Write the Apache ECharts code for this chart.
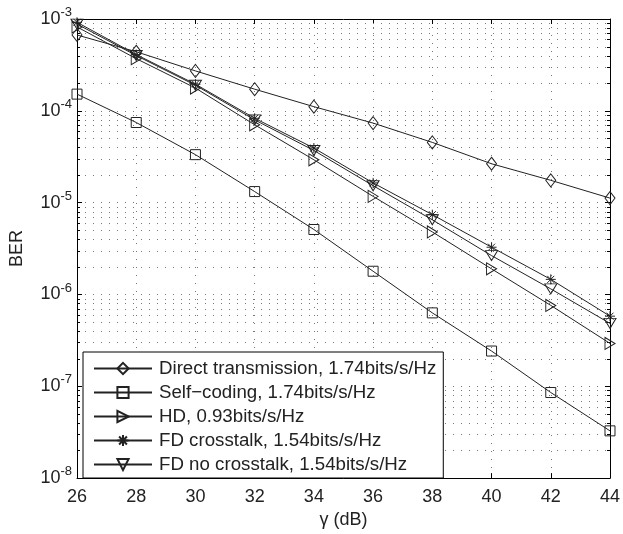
<!DOCTYPE html>
<html>
<head>
<meta charset="utf-8">
<script src="https://cdn.jsdelivr.net/npm/echarts@6/dist/echarts.min.js"></script>
<style>
  html, body { margin: 0; padding: 0; background: #fff; }
  #chart { width: 623px; height: 534px; }
</style>
</head>
<body>
<div id="chart"></div>
<script>
// SNR in dB
var snr = [26, 28, 30, 32, 34, 36, 38, 40, 42, 44]

// BER per scheme
var directTx = [6.7e-4, 4.4e-4, 2.72e-4, 1.72e-4, 1.11e-4, 7.35e-5, 4.53e-5, 2.65e-5, 1.75e-5, 1.12e-5]
var selfCoding = [1.52e-4, 7.46e-5, 3.33e-5, 1.32e-5, 5.1e-6, 1.79e-6, 6.3e-7, 2.42e-7, 8.55e-8, 3.27e-8]
var hd = [8.2e-4, 3.7e-4, 1.77e-4, 7.05e-5, 2.93e-5, 1.17e-5, 4.8e-6, 1.9e-6, 7.6e-7, 2.93e-7]
var fdCrosstalk = [9.2e-4, 4.1e-4, 1.95e-4, 8.3e-5, 3.93e-5, 1.64e-5, 7.4e-6, 3.27e-6, 1.46e-6, 5.8e-7]
var fdNoCrosstalk = [8.8e-4, 4.0e-4, 1.9e-4, 7.97e-5, 3.7e-5, 1.53e-5, 6.5e-6, 2.65e-6, 1.15e-6, 4.84e-7]

var names = [
  'Direct transmission, 1.74bits/s/Hz',
  'Self\u2212coding, 1.74bits/s/Hz',
  'HD, 0.93bits/s/Hz',
  'FD crosstalk, 1.54bits/s/Hz',
  'FD no crosstalk, 1.54bits/s/Hz'
]

// log minor grid values (2..9 per decade)
var minorVals = []
for (var e = -8; e < -3; e++) {
  for (var k = 2; k <= 9; k++) minorVals.push(k * Math.pow(10, e))
}

var FONT = 'Liberation Sans, Arial, sans-serif'
var INK = '#222'
var DOT_COLOR = '#777'
var DOTS = { color: DOT_COLOR, width: 1, type: [1, 7] }

function pairs(ys) {
  return snr.map(function(x, i) { return [x, ys[i]] })
}

function curve(name, ys, symbol, size, rotate) {
  return {
    name: name,
    type: 'line',
    data: pairs(ys),
    symbol: symbol,
    symbolSize: size,
    symbolRotate: rotate || 0,
    showAllSymbol: true,
    lineStyle: { color: INK, width: 1 },
    itemStyle: { color: 'none', borderColor: INK, borderWidth: 1 },
    emphasis: { disabled: true },
    animation: false,
    z: 3
  }
}

var star = 'path://M5,0L5,10M0,5L10,5M1.5,1.5L8.5,8.5M1.5,8.5L8.5,1.5'

var chart = echarts.init(document.getElementById('chart'))
chart.setOption({
  backgroundColor: '#fff',
  textStyle: { fontFamily: FONT },
  animation: false,
  grid: { left: 75, right: 8, top: 19, bottom: 55, containLabel: false },
  legend: {
    data: names,
    orient: 'vertical',
    left: 83,
    top: 352,
    padding: [7, 7, 4, 10],
    itemWidth: 58,
    itemHeight: 14,
    itemGap: 5,
    backgroundColor: '#fff',
    borderColor: '#000',
    borderWidth: 1,
    borderRadius: 0,
    selectedMode: false,
    textStyle: { fontFamily: FONT, fontSize: 18.7, color: INK, lineHeight: 18, padding: [0, 0, 0, 2] }
  },
  xAxis: [{
    type: 'value',
    position: 'bottom',
    min: 26,
    max: 44,
    interval: 2,
    name: '\u03b3 (dB)',
    nameLocation: 'middle',
    nameGap: 24,
    nameTextStyle: { fontFamily: FONT, fontSize: 18, color: INK },
    axisLine: { lineStyle: { color: '#000', width: 1 } },
    axisTick: { inside: true, length: 5, lineStyle: { color: '#000' } },
    axisLabel: { fontFamily: FONT, fontSize: 18, color: INK, margin: 10 },
    splitLine: { show: true, lineStyle: DOTS }
  }, {
    type: 'value',
    position: 'top',
    min: 26,
    max: 44,
    interval: 2,
    axisLine: { lineStyle: { color: '#000', width: 1 } },
    axisTick: { inside: true, length: 5, lineStyle: { color: '#000' } },
    axisLabel: { show: false },
    splitLine: { show: false }
  }],
  yAxis: [{
    type: 'log',
    logBase: 10,
    position: 'left',
    min: 1e-8,
    max: 1e-3,
    splitNumber: 5,
    name: 'BER',
    nameLocation: 'middle',
    nameGap: 51,
    nameTextStyle: { fontFamily: FONT, fontSize: 18, color: INK },
    axisLine: { lineStyle: { color: '#000', width: 1 } },
    axisTick: { inside: true, length: 5, lineStyle: { color: '#000' } },
    axisLabel: {
      margin: 5,
      showMinLabel: true,
      showMaxLabel: true,
      formatter: function(v) {
        var p = Math.round(Math.log(v) / Math.LN10)
        return '{b|10}{s|' + p + '}'
      },
      rich: {
        b: { fontFamily: FONT, fontSize: 18, color: INK, lineHeight: 18, verticalAlign: 'bottom' },
        s: { fontFamily: FONT, fontSize: 13, color: INK, lineHeight: 13, verticalAlign: 'bottom', padding: [0, 0, 9, 0] }
      }
    },
    splitLine: { show: true, lineStyle: DOTS }
  }, {
    type: 'log',
    logBase: 10,
    position: 'right',
    min: 1e-8,
    max: 1e-3,
    splitNumber: 5,
    axisLine: { lineStyle: { color: '#000', width: 1 } },
    axisTick: { inside: true, length: 5, lineStyle: { color: '#000' } },
    axisLabel: { show: false },
    splitLine: { show: false }
  }],
  series: [
    {
      // minor log grid + minor ticks on both sides
      type: 'custom',
      silent: true,
      z: 1,
      data: minorVals.map(function(v) { return [26, v] }),
      renderItem: function(params, api) {
        var cs = params.coordSys
        var y = Math.round(api.coord([26, api.value(1)])[1]) + 0.5
        var x0 = cs.x, x1 = cs.x + cs.width
        return {
          type: 'group',
          children: [
            { type: 'line', shape: { x1: x0, y1: y, x2: x1, y2: y }, style: { stroke: DOT_COLOR, lineWidth: 1, lineDash: [1, 7] } },
            { type: 'line', shape: { x1: x0, y1: y, x2: x0 + 3, y2: y }, style: { stroke: '#000', lineWidth: 1 } },
            { type: 'line', shape: { x1: x1 - 3, y1: y, x2: x1, y2: y }, style: { stroke: '#000', lineWidth: 1 } }
          ]
        }
      }
    },
    curve(names[0], directTx, 'diamond', [10, 13]),
    curve(names[1], selfCoding, 'rect', 10),
    curve(names[2], hd, 'triangle', [12, 10], -90),
    curve(names[3], fdCrosstalk, star, 10),
    curve(names[4], fdNoCrosstalk, 'triangle', [12, 10], 180)
  ]
})
</script>
</body>
</html>
